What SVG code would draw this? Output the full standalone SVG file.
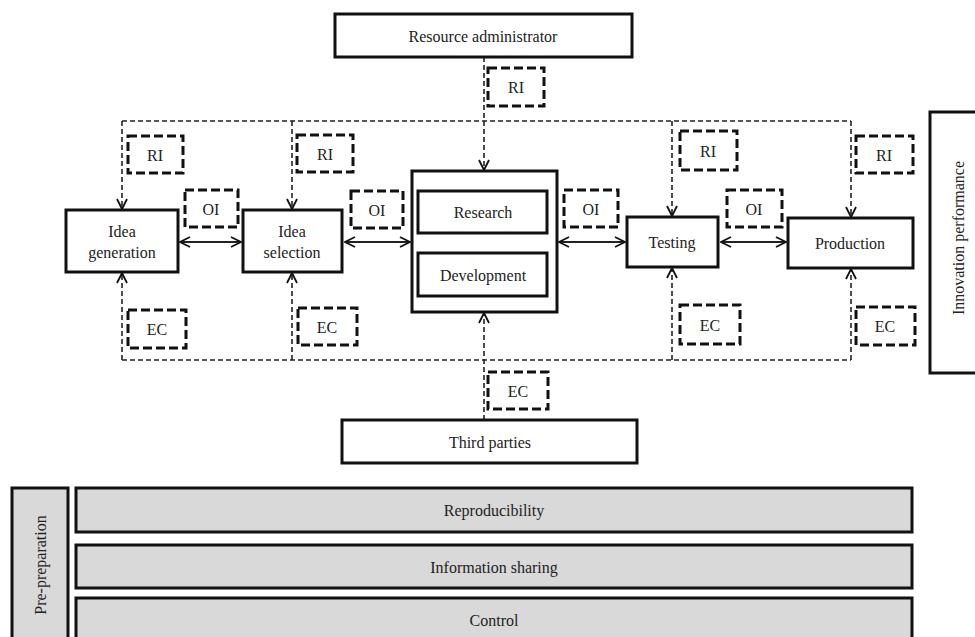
<svg xmlns="http://www.w3.org/2000/svg" width="975" height="637" viewBox="0 0 975 637">
<defs>
<style>
text{font-family:'Liberation Serif','Times New Roman',Times,serif;font-size:16px;fill:#222;text-anchor:middle;dominant-baseline:central}
.box{fill:#fff;stroke:#111;stroke-width:3}
.tag{fill:#fff;stroke:#111;stroke-width:3;stroke-dasharray:9 4}
.bar{fill:#d9d9d9;stroke:#111;stroke-width:3}
.dl{fill:none;stroke:#222;stroke-width:1.6;stroke-dasharray:5 3}
.sl{fill:none;stroke:#222;stroke-width:2}
</style>
<marker id="ah" viewBox="0 0 12 12" refX="11" refY="6" markerWidth="12" markerHeight="12" markerUnits="userSpaceOnUse" orient="auto-start-reverse">
<path d="M1,1 L11,6 L1,11" fill="none" stroke="#111" stroke-width="1.8"/>
</marker>
</defs>
<g id="connectors">
<path class="dl" d="M122,121 H851"/>
<path class="dl" d="M122,121 V209" marker-end="url(#ah)"/>
<path class="dl" d="M292,121 V209" marker-end="url(#ah)"/>
<path class="dl" d="M672,121 V216" marker-end="url(#ah)"/>
<path class="dl" d="M851,121 V217" marker-end="url(#ah)"/>
<path class="dl" d="M484,57 V170" marker-end="url(#ah)"/>
<path class="dl" d="M122,360 H851"/>
<path class="dl" d="M122,360 V273" marker-end="url(#ah)"/>
<path class="dl" d="M292,360 V273" marker-end="url(#ah)"/>
<path class="dl" d="M672,360 V268" marker-end="url(#ah)"/>
<path class="dl" d="M851,360 V269" marker-end="url(#ah)"/>
<path class="dl" d="M484,420 V313" marker-end="url(#ah)"/>
<path class="sl" d="M180,242 H241" marker-start="url(#ah)" marker-end="url(#ah)"/>
<path class="sl" d="M345,242 H410" marker-start="url(#ah)" marker-end="url(#ah)"/>
<path class="sl" d="M559,242 H625" marker-start="url(#ah)" marker-end="url(#ah)"/>
<path class="sl" d="M721,242 H786" marker-start="url(#ah)" marker-end="url(#ah)"/>
</g>
<g font-family="Liberation Serif, serif">
<g id="resource-administrator"><rect class="box" x="335" y="14" width="297" height="43"/><text x="483" y="36">Resource administrator</text></g>
<g id="ri-admin"><rect class="tag" x="488" y="68" width="56" height="38"/><text x="516" y="87">RI</text></g>
<g id="ri-idea-generation"><rect class="tag" x="128" y="136" width="55" height="37"/><text x="155" y="155">RI</text></g>
<g id="ri-idea-selection"><rect class="tag" x="297" y="135" width="56" height="37"/><text x="325" y="154">RI</text></g>
<g id="ri-testing"><rect class="tag" x="680" y="131" width="57" height="39"/><text x="708" y="151">RI</text></g>
<g id="ri-production"><rect class="tag" x="856" y="136" width="57" height="37"/><text x="884" y="155">RI</text></g>
<g id="oi-1"><rect class="tag" x="185" y="190" width="53" height="37"/><text x="211" y="209">OI</text></g>
<g id="oi-2"><rect class="tag" x="351" y="191" width="52" height="37"/><text x="377" y="210">OI</text></g>
<g id="oi-3"><rect class="tag" x="564" y="190" width="54" height="37"/><text x="591" y="209">OI</text></g>
<g id="oi-4"><rect class="tag" x="727" y="190" width="55" height="37"/><text x="754" y="209">OI</text></g>
<g id="idea-generation"><rect class="box" x="66" y="210" width="112" height="62"/><text x="122" y="231">Idea</text><text x="122" y="252">generation</text></g>
<g id="idea-selection"><rect class="box" x="243" y="210" width="99" height="62"/><text x="292" y="231">Idea</text><text x="292" y="252">selection</text></g>
<g id="research-development"><rect class="box" x="412" y="171" width="145" height="141"/>
<rect class="box" x="418" y="191" width="129" height="42"/><text x="483" y="212">Research</text>
<rect class="box" x="418" y="253" width="129" height="43"/><text x="483" y="275">Development</text></g>
<g id="testing"><rect class="box" x="627" y="217" width="91" height="50"/><text x="672" y="242">Testing</text></g>
<g id="production"><rect class="box" x="788" y="218" width="125" height="50"/><text x="850" y="243">Production</text></g>
<g id="ec-idea-generation"><rect class="tag" x="128" y="310" width="58" height="38"/><text x="157" y="329">EC</text></g>
<g id="ec-idea-selection"><rect class="tag" x="298" y="308" width="59" height="37"/><text x="327" y="327">EC</text></g>
<g id="ec-testing"><rect class="tag" x="680" y="305" width="60" height="39"/><text x="710" y="325">EC</text></g>
<g id="ec-production"><rect class="tag" x="856" y="307" width="59" height="38"/><text x="885" y="326">EC</text></g>
<g id="ec-third"><rect class="tag" x="488" y="372" width="60" height="37"/><text x="518" y="391">EC</text></g>
<g id="third-parties"><rect class="box" x="342" y="420" width="295" height="43"/><text x="490" y="442">Third parties</text></g>
<g id="innovation-performance"><rect class="box" x="930" y="112" width="60" height="261"/><text transform="translate(958,238) rotate(-90)" x="0" y="0">Innovation performance</text></g>
<g id="pre-preparation"><rect class="bar" x="12" y="488" width="56" height="160"/><text transform="translate(40,565) rotate(-90)" x="0" y="0">Pre-preparation</text></g>
<g id="reproducibility"><rect class="bar" x="76" y="488" width="836" height="44"/><text x="494" y="510">Reproducibility</text></g>
<g id="information-sharing"><rect class="bar" x="76" y="545" width="836" height="43"/><text x="494" y="567">Information sharing</text></g>
<g id="control"><rect class="bar" x="76" y="598" width="836" height="50"/><text x="494" y="620">Control</text></g>
</g>
</svg>
